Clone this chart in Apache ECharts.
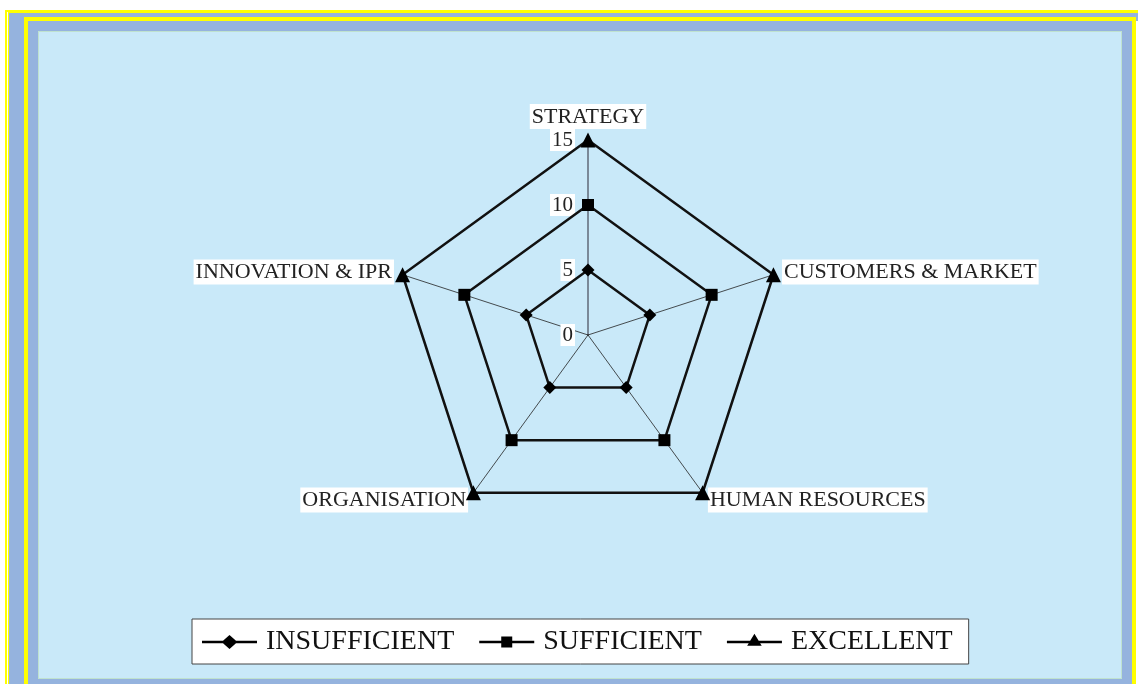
<!DOCTYPE html>
<html>
<head>
<meta charset="utf-8">
<script src="https://cdn.jsdelivr.net/npm/echarts@6/dist/echarts.min.js"></script>
<style>
  html, body { margin: 0; padding: 0; background: #ffffff; width: 1138px; height: 684px; overflow: hidden; }
  .abs { position: absolute; box-sizing: border-box; }
  #chart { position: absolute; left: 0; top: 0; width: 1138px; height: 684px; }
</style>
</head>
<body>
<div class="abs" style="left:5px;top:10px;width:1200px;height:800px;border-left:2px solid #ffff00;border-top:2px solid #ffff00;background:#ffffff;"></div>
<div class="abs" style="left:8px;top:12px;width:1200px;height:800px;border-left:1.5px solid #ffff00;border-top:1.5px solid #ffff00;background:#95b3de;"></div>
<div class="abs" style="left:1136px;top:21px;width:10px;height:800px;background:#ffffff;"></div>
<div class="abs" style="left:24px;top:17px;width:1112px;height:800px;border:4px solid #ffff00;background:#95b3de;"></div>
<div class="abs" style="left:38px;top:31px;width:1084px;height:648px;border:1px solid #bfe2cf;background:#c9e9f9;"></div>
<div id="chart"></div>
<script>
// Categories in clockwise order starting from the top (as in the reference)
const categories = ['STRATEGY', 'CUSTOMERS & MARKET', 'HUMAN RESOURCES', 'ORGANISATION', 'INNOVATION & IPR'];
const axisMax = 15;
const seriesNames = ['INSUFFICIENT', 'SUFFICIENT', 'EXCELLENT'];
const insufficient = [5, 5, 5, 5, 5];
const sufficient = [10, 10, 10, 10, 10];
const excellent = [15, 15, 15, 15, 15];
const seriesSymbols = ['diamond', 'rect', 'triangle'];
const seriesSymbolSizes = [13, 12, 15];

const FONT = '"Liberation Serif", "Times New Roman", serif';

const legendIcons = [
  'path://M0 5.8L21 5.8L27.5 0L34 5.8L55 5.8L55 8.2L34 8.2L27.5 14L21 8.2L0 8.2Z',
  'path://M0 5.8L22 5.8L22 1.5L33 1.5L33 5.8L55 5.8L55 8.2L33 8.2L33 12.5L22 12.5L22 8.2L0 8.2Z',
  'path://M0 7L23.24 7L27.5 0L31.76 7L55 7L55 9.4L33.2 9.4L34.8 12L20.2 12L21.8 9.4L0 9.4Z M27.5 16.4L27.5 16.4Z'
];

// ECharts radar runs counter-clockwise; reverse the order after the first to draw clockwise
const order = [0].concat(categories.slice(1).map((_, i) => categories.length - 1 - i));

const indicators = order.map((ci, i) => {
  const ind = { name: categories[ci], max: axisMax, min: 0 };
  if (i === 0) {
    ind.axisLabel = {
      show: true, margin: 13, color: '#222', fontFamily: FONT, fontSize: 21,
      backgroundColor: '#ffffff', padding: [1, 2, 0, 2]
    };
    ind.axisLine = { lineStyle: { color: '#7a8998', width: 2 } };
  }
  return ind;
});

const dataSets = [insufficient, sufficient, excellent];

const chart = echarts.init(document.getElementById('chart'), null, { renderer: 'canvas' });
chart.setOption({
  backgroundColor: 'transparent',
  animation: false,
  legend: {
    left: 192, top: 619,
    orient: 'horizontal',
    backgroundColor: '#ffffff',
    borderColor: '#444',
    borderWidth: 1,
    padding: [9, 16, 8, 10],
    itemGap: 25,
    itemWidth: 55,
    itemHeight: 17,
    textStyle: { color: '#111', fontFamily: FONT, fontSize: 28, padding: [2, 0, 0, 4] },
    data: seriesNames.map((n, i) => ({ name: n, icon: legendIcons[i], itemStyle: { color: '#000' } }))
  },
  radar: {
    center: [588, 335],
    radius: 195,
    startAngle: 90,
    shape: 'polygon',
    splitNumber: 3,
    indicator: indicators,
    nameGap: 9,
    axisName: {
      color: '#222', fontFamily: FONT, fontSize: 22,
      backgroundColor: '#ffffff', padding: [2, 2, 1, 2]
    },
    axisLine: { show: true, lineStyle: { color: '#222', width: 0.8 } },
    axisTick: { show: false },
    axisLabel: { show: false },
    splitLine: { show: false },
    splitArea: { show: false }
  },
  series: [{
    type: 'radar',
    data: dataSets.map((d, i) => ({
      name: seriesNames[i],
      value: order.map(ci => d[ci]),
      symbol: seriesSymbols[i],
      symbolSize: seriesSymbolSizes[i],
      itemStyle: { color: '#000' },
      lineStyle: { color: '#111', width: 2.5 }
    }))
  }]
});
</script>
</body>
</html>
